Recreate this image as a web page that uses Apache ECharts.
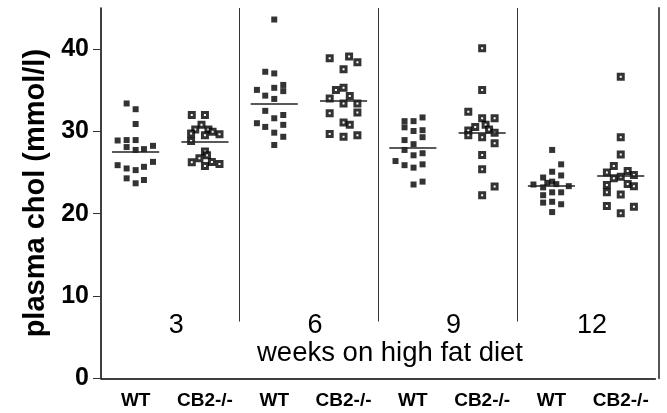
<!DOCTYPE html>
<html>
<head>
<meta charset="utf-8">
<script src="https://cdn.jsdelivr.net/npm/echarts@6/dist/echarts.min.js"></script>
<style>html,body{margin:0;padding:0;background:#fff;}#c{width:667px;height:413px;}</style>
</head>
<body>
<div id="c"></div>
<script>
// x-axis categories (genotype per week group)
const categories = ['WT', 'CB2-/-', 'WT', 'CB2-/-', 'WT', 'CB2-/-', 'WT', 'CB2-/-'];
// week group labels
const weekLabels = ['3', '6', '9', '12'];
// y tick labels
const yTicks = [0, 10, 20, 30, 40];

// points: [horizontal scatter offset within category, plasma chol (mmol/l)]
const wt3 = [[-0.13,33.4],[0,32.7],[0,30.9],[-0.26,28.9],[-0.13,28.95],[0,28.95],[-0.13,28.1],[0,27.75],[0.12,27.85],[0.25,28.25],[-0.26,25.9],[-0.13,25.5],[0,25.3],[0.12,25.7],[0.25,26.3],[-0.13,24.3],[0,23.7],[0.12,24.1]];
const cb2_3 = [[-0.19,32.0],[0,32.0],[-0.05,30.8],[-0.14,30.25],[0.05,30.25],[-0.2,29.75],[0,29.55],[0.11,29.95],[0.21,29.65],[-0.2,28.85],[0,27.55],[0.03,27.1],[-0.08,26.75],[-0.19,26.25],[0.1,26.3],[0,25.8],[0.21,26.05]];
const wt6 = [[0,43.6],[-0.13,37.25],[0,37.05],[0.13,35.65],[-0.25,35.05],[0,35.3],[0.13,34.9],[-0.13,34.35],[0,33.95],[-0.13,32.5],[0,31.6],[0.13,32.0],[-0.25,31.0],[-0.13,30.55],[0.13,30.8],[0,29.85],[0.13,29.35],[0,28.35]];
const cb2_6 = [[-0.2,38.9],[0.08,39.1],[0.2,38.4],[0,37.55],[-0.11,35.05],[0,35.3],[-0.2,34.0],[0.09,34.3],[0,33.4],[0.2,33.4],[-0.2,32.2],[0.2,32.3],[0,31.1],[0.09,30.8],[-0.2,29.7],[0,29.35],[0.2,29.55]];
const wt9 = [[0.14,31.7],[-0.12,31.25],[0.01,31.25],[-0.12,30.5],[0.01,30.05],[0.14,30.15],[0.14,29.3],[-0.12,28.95],[0.01,28.45],[-0.12,27.75],[0.01,27.1],[0.14,27.35],[-0.25,26.4],[-0.12,25.9],[0.01,25.6],[0.14,26.0],[0.01,23.55],[0.14,23.9]];
const cb2_9 = [[0,40.1],[0,35.05],[-0.2,32.4],[0,31.6],[0.18,31.6],[-0.1,30.55],[0.05,30.8],[0.1,30.25],[-0.2,30.1],[-0.2,29.55],[0.18,29.85],[0,29.3],[0.18,28.55],[0,27.15],[0,25.4],[0.18,23.3],[0,22.25]];
const wt12 = [[0.01,27.75],[0.14,26.0],[0.01,25.1],[-0.12,24.4],[0.14,24.65],[-0.26,23.55],[-0.06,23.75],[0.01,23.9],[0.07,23.6],[0.25,23.35],[-0.12,23.2],[-0.12,22.25],[0.01,22.6],[0.14,22.6],[-0.12,21.35],[0.01,21.45],[0.14,21.15],[0.01,20.2]];
const cb2_12 = [[0,36.65],[0,29.3],[0,27.2],[-0.1,25.8],[-0.2,25.0],[0.1,25.2],[0.19,24.7],[0,24.5],[-0.1,24.3],[-0.2,23.5],[0.1,23.6],[0.19,23.35],[-0.2,22.6],[0,22.35],[-0.2,20.95],[0.19,20.85],[0,20.05]];

// group means (horizontal bars)
const wtMeans = [27.58, 33.37, 28.02, 23.40];
const cb2Means = [28.75, 33.69, 29.84, 24.58];

const FONT = '"Liberation Sans", Arial, Helvetica, sans-serif';
const wtGroups = [wt3, wt6, wt9, wt12];
const cb2Groups = [cb2_3, cb2_6, cb2_9, cb2_12];

function place(groups, slot) {
  const out = [];
  groups.forEach((g, gi) => {
    const center = gi * 2 + slot + 0.5;
    g.forEach(p => out.push([center + p[0], p[1]]));
  });
  return out;
}
const meanHalf = 0.34;
const meanLines = [];
wtMeans.forEach((m, gi) => { const c = gi * 2 + 0.5; meanLines.push([{coord:[c - meanHalf, m]}, {coord:[c + meanHalf, m]}]); });
cb2Means.forEach((m, gi) => { const c = gi * 2 + 1.5; meanLines.push([{coord:[c - meanHalf, m]}, {coord:[c + meanHalf, m]}]); });
const sepLines = [2, 4, 6].map(x => [{coord:[x, 45]}, {coord:[x, 6.9]}]);

const chart = echarts.init(document.getElementById('c'), null, {renderer: 'canvas'});
chart.setOption({
  animation: false,
  backgroundColor: '#fff',
  textStyle: {fontFamily: FONT},
  grid: {left: 101, right: 11.6, top: 8, bottom: 34.7},
  xAxis: [
    {
      type: 'category', data: categories, boundaryGap: true,
      axisLine: {lineStyle: {color: '#000', width: 1.5}},
      axisTick: {alignWithLabel: true, length: 8, lineStyle: {color: '#333', width: 1}},
      axisLabel: {color: '#000', fontWeight: 'bold', fontSize: 19, margin: 13, fontFamily: FONT, interval: 0},
      splitLine: {show: false}
    },
    {type: 'value', min: 0, max: 8, show: false},
    {
      type: 'category', data: weekLabels, position: 'bottom',
      axisLine: {show: false}, axisTick: {show: false}, splitLine: {show: false},
      axisLabel: {inside: true, margin: 39, fontSize: 27, color: '#000', fontFamily: FONT, padding: [0, 0, 0, 12]}
    }
  ],
  yAxis: [
    {
      type: 'value', min: 0, max: 45,
      name: 'plasma chol (mmol/l)', nameLocation: 'middle', nameGap: 51,
      nameTextStyle: {fontSize: 29, fontWeight: 'bold', color: '#000', fontFamily: FONT, padding: [0, 0, 0, 0]},
      axisLine: {show: true, lineStyle: {color: '#000', width: 1.5}},
      axisTick: {show: true, length: 8, customValues: yTicks, lineStyle: {color: '#333'}},
      axisLabel: {customValues: yTicks, color: '#000', fontWeight: 'bold', fontSize: 25, margin: 12, fontFamily: FONT},
      splitLine: {show: false}
    },
    {
      type: 'value', min: 0, max: 45, position: 'right', offset: 3,
      axisLine: {show: true, lineStyle: {color: '#555', width: 2}},
      axisTick: {show: false}, axisLabel: {show: false}, splitLine: {show: false}
    }
  ],
  graphic: [{
    type: 'text', x: 390, y: 353,
    style: {text: 'weeks on high fat diet', fontSize: 27.5, fontFamily: FONT, fill: '#000', align: 'center', verticalAlign: 'middle'}
  }],
  series: [
    {
      type: 'scatter', xAxisIndex: 1, yAxisIndex: 0,
      data: place(wtGroups, 0), symbol: 'rect', symbolSize: 6,
      itemStyle: {color: '#000'}, emphasis: {disabled: true}, silent: true,
      markLine: {
        silent: true, symbol: 'none', label: {show: false},
        lineStyle: {color: '#222', width: 1.5, type: 'solid'},
        data: meanLines
      }
    },
    {
      type: 'scatter', xAxisIndex: 1, yAxisIndex: 0,
      data: place(cb2Groups, 1), symbol: 'rect', symbolSize: 5,
      itemStyle: {color: '#fff', borderColor: '#000', borderWidth: 3}, emphasis: {disabled: true}, silent: true,
      markLine: {
        silent: true, symbol: 'none', label: {show: false},
        lineStyle: {color: '#333', width: 1, type: 'solid'},
        data: sepLines
      }
    }
  ]
});
</script>
</body>
</html>
